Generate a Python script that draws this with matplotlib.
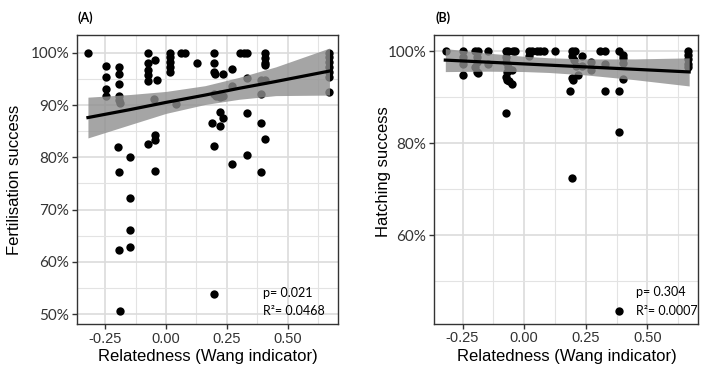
import numpy as np
import matplotlib
matplotlib.use("Agg")
import matplotlib.pyplot as plt
from matplotlib.ticker import FixedLocator

# panel A : fertilisation success vs relatedness
fert_x = [-0.321,
          -0.247, -0.247, -0.247, -0.247,
          -0.193, -0.193, -0.193, -0.193, -0.193, -0.189, -0.195, -0.193, -0.193, -0.189,
          -0.146, -0.146, -0.146, -0.146,
          -0.072, -0.072, -0.072, -0.072, -0.072, -0.046, -0.038, -0.049, -0.046, -0.046, -0.072, -0.046,
          0.016, 0.016, 0.016, 0.016, 0.016,
          0.040, 0.060, 0.078, 0.128,
          0.198, 0.198, 0.196, 0.200, 0.235,
          0.198, 0.207, 0.221, 0.235, 0.221,
          0.221, 0.235, 0.187, 0.221, 0.197, 0.195,
          0.269, 0.269, 0.269,
          0.305, 0.321, 0.331, 0.331, 0.331, 0.331,
          0.388, 0.388, 0.388, 0.388,
          0.406, 0.406, 0.406, 0.406, 0.406, 0.406,
          0.669, 0.669, 0.669, 0.669, 0.669, 0.669, 0.669]
fert_y = [100,
          97.4, 95.4, 93.0, 91.8,
          97.3, 96.0, 94.0, 91.7, 90.9, 90.3, 82.0, 77.2, 62.2, 50.6,
          80.0, 72.2, 66.1, 62.9,
          100, 98.0, 96.7, 95.7, 94.6, 98.7, 94.8, 91.2, 84.3, 83.3, 82.5, 77.4,
          100, 99.2, 98.3, 97.3, 96.4,
          90.2, 100, 100, 98.1,
          100, 98.1, 96.4, 96.0, 96.0,
          92.2, 91.8, 91.5, 91.8, 92.2,
          88.7, 87.6, 86.6, 86.0, 82.1, 53.8,
          96.9, 93.6, 78.8,
          100, 100, 100, 95.1, 88.4, 80.4,
          92.2, 94.8, 86.6, 77.1,
          100, 99.0, 98.0, 97.6, 94.8, 83.5,
          100, 99.2, 98.3, 97.3, 96.4, 95.4, 92.4]

# panel B : hatching success vs relatedness
hatch_x = [-0.319,
           -0.248, -0.248, -0.248, -0.248,
           -0.200, -0.186, -0.193, -0.193, -0.200, -0.193, -0.186,
           -0.146, -0.146,
           -0.074, -0.064, -0.044, -0.037,
           -0.074, -0.074, -0.064, -0.070,
           -0.074, -0.070, -0.060, -0.050, -0.050, -0.074,
           0.018, 0.031, 0.052, 0.065, 0.082, 0.018,
           0.127,
           0.195, 0.208, 0.195, 0.202, 0.236, 0.210, 0.236,
           0.195, 0.199, 0.218, 0.188, 0.195,
           0.270, 0.270,
           0.310, 0.328, 0.328, 0.328,
           0.386, 0.400, 0.403, 0.403, 0.403, 0.386, 0.386, 0.386,
           0.665, 0.665, 0.665, 0.665, 0.665]
hatch_y = [100,
           100, 98.8, 97.3, 94.9,
           100, 100, 98.8, 97.7, 96.6, 95.5, 95.2,
           100, 97.3,
           100, 100, 100, 100,
           98.8, 97.7, 96.6, 95.5,
           94.4, 93.7, 93.4, 92.9, 95.9, 86.5,
           100, 100, 100, 100, 100, 98.9,
           100,
           100, 100, 98.9, 98.0, 98.9, 96.8, 96.8,
           94.1, 93.7, 94.8, 91.3, 72.4,
           97.7, 95.9,
           100, 100, 97.3, 91.3,
           100, 99.1, 98.4, 97.5, 93.9, 91.3, 82.5, 43.5,
           100, 99.1, 98.3, 97.3, 96.5]

# fitted line + confidence band
fitA_x = [-0.32, -0.15, 0.0, 0.16, 0.30, 0.45, 0.67]
fitA_mid = [87.6, 89.1, 90.5, 91.9, 93.2, 94.5, 96.5]
fitA_lo = [83.7, 86.2, 88.4, 90.1, 91.1, 91.8, 91.9]
fitA_hi = [91.5, 92.0, 92.6, 93.7, 95.3, 97.3, 100.9]

fitB_x = [-0.32, -0.15, 0.0, 0.10, 0.25, 0.45, 0.67]
fitB_mid = [98.05, 97.61, 97.22, 96.96, 96.57, 96.05, 95.48]
fitB_lo = [95.55, 95.64, 95.56, 95.36, 94.83, 93.79, 92.43]
fitB_hi = [100.55, 99.58, 98.88, 98.56, 98.31, 98.31, 98.53]

stats_A = ["p= 0.021", "R\u00b2= 0.0468"]
stats_B = ["p= 0.304", "R\u00b2= 0.0007"]

x_ticks = [-0.25, 0.0, 0.25, 0.50]
x_minor = [-0.125, 0.125, 0.375, 0.625]


def style_panel(ax, yticks, yminor, ylim):
    ax.set_xlim(-0.366, 0.707)
    ax.set_ylim(*ylim)
    ax.xaxis.set_major_locator(FixedLocator(x_ticks))
    ax.xaxis.set_minor_locator(FixedLocator(x_minor))
    ax.yaxis.set_major_locator(FixedLocator(yticks))
    ax.yaxis.set_minor_locator(FixedLocator(yminor))
    ax.set_xticklabels(["%.2f" % t for t in x_ticks], fontsize=10.5,
                       family="Liberation Sans", color="#333333")
    ax.set_yticklabels(["%d%%" % t for t in yticks], fontsize=11,
                       family="Lato", color="#333333")
    ax.grid(which="major", color="#dcdcdc", lw=1.2, zorder=0)
    ax.grid(which="minor", color="#e3e3e3", lw=0.8, zorder=0)
    ax.tick_params(which="major", length=3.5, width=1, color="#333333", pad=2)
    ax.tick_params(which="minor", length=0)
    for s in ax.spines.values():
        s.set_color("#333333")
        s.set_linewidth(1)
    ax.set_axisbelow(True)


def draw_panel(ax, xs, ys, fx, fmid, flo, fhi):
    ax.scatter(xs, ys, s=36, color="black", zorder=3, linewidths=0)
    ax.fill_between(fx, flo, fhi, color="#8f8f8f", alpha=0.8, lw=0, zorder=4)
    ax.plot(fx, fmid, color="black", lw=2.3, zorder=5)


fig = plt.figure(figsize=(7.09, 3.75), dpi=100)
axA = fig.add_axes([0.1082, 0.136, 0.3692, 0.7707])
axB = fig.add_axes([0.6121, 0.1373, 0.3728, 0.7693])

draw_panel(axA, fert_x, fert_y, fitA_x, fitA_mid, fitA_lo, fitA_hi)
style_panel(axA, [50, 60, 70, 80, 90, 100], [55, 65, 75, 85, 95], (48.1, 103.4))

draw_panel(axB, hatch_x, hatch_y, fitB_x, fitB_mid, fitB_lo, fitB_hi)
style_panel(axB, [60, 80, 100], [50, 70, 90], (40.8, 103.5))

# stats text
for ax, lines, tx in [(axA, stats_A, 0.713), (axB, stats_B, 0.763)]:
    ax.text(tx, 0.095, lines[0], transform=ax.transAxes, fontsize=9,
            family="Lato", color="black", zorder=6)
    ax.text(tx, 0.03, lines[1], transform=ax.transAxes, fontsize=9,
            family="Lato", color="black", zorder=6)

# labels
fig.text(208 / 709, 1 - 356 / 375, "Relatedness (Wang indicator)", ha="center",
         va="center", fontsize=12, family="Liberation Sans")
fig.text(567 / 709, 1 - 356 / 375, "Relatedness (Wang indicator)", ha="center",
         va="center", fontsize=12, family="Liberation Sans")
fig.text(15 / 709, 1 - 180 / 375, "Fertilisation success", rotation=90,
         ha="center", va="center", fontsize=12, family="Liberation Sans")
fig.text(383 / 709, 1 - 172 / 375, "Hatching success", rotation=90,
         ha="center", va="center", fontsize=12, family="Liberation Sans")
fig.text(77 / 709, 1 - 18 / 375, "(A)", ha="left", va="center", fontsize=9,
         family="Lato", fontweight="bold")
fig.text(435 / 709, 1 - 18 / 375, "(B)", ha="left", va="center", fontsize=9,
         family="Lato", fontweight="bold")

fig.savefig("out.png", dpi=100)
